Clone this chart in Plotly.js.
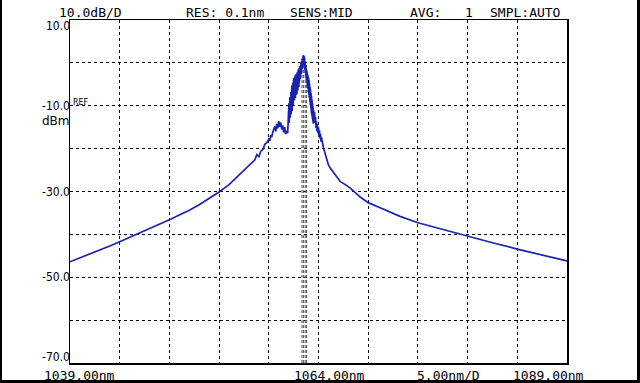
<!DOCTYPE html>
<html><head><meta charset="utf-8">
<script src="https://cdn.plot.ly/plotly-3.0.1.min.js"></script>
<style>
html,body{margin:0;padding:0;background:#fff;}
#wrap{position:relative;width:640px;height:383px;}
#chart{position:absolute;left:0;top:0;width:640px;height:383px;}
#frame{position:absolute;left:0;top:0;width:640px;height:383px;box-sizing:border-box;border-left:2px solid #000;border-right:3px solid #000;border-bottom:3px solid #000;pointer-events:none;}
</style></head>
<body><div id="wrap"><div id="chart"></div><div id="frame"></div></div>
<script>
// Wavelength (nm) and power (dBm)
const wavelength = [
 1039.0,1040.0,1041.0,1042.0,1043.0,1044.0,1045.0,1046.0,1047.0,1048.0,1049.0,1050.0,1051.0,1052.0,1053.0,1054.0,1055.0,1056.0,1056.5,1057.0,1057.3,1057.6,1057.8,1058.0,1058.2,1058.4,1058.6,1058.8,1059.0,1059.1,1059.2,1059.3,1059.4,
 1059.5,1059.6,1059.7,1059.8,1059.9,1060.0,1060.1,1060.2,1060.3,1060.4,1060.5,1060.6,1060.7,1060.8,1060.9,
 1061.000,1061.025,1061.050,1061.075,1061.100,1061.125,1061.150,1061.175,1061.200,1061.225,1061.250,1061.275,1061.300,1061.325,1061.350,1061.375,1061.400,1061.425,1061.450,1061.475,
 1061.500,1061.525,1061.550,1061.575,1061.600,1061.625,1061.650,1061.675,1061.700,1061.725,1061.750,1061.775,1061.800,1061.825,1061.850,1061.875,1061.900,1061.925,1061.950,1061.975,
 1062.000,1062.025,1062.050,1062.075,1062.100,1062.125,1062.150,1062.175,1062.200,1062.225,1062.250,1062.275,1062.300,1062.325,1062.350,1062.375,1062.400,1062.425,1062.450,1062.475,
 1062.500,1062.525,1062.550,1062.575,1062.600,1062.625,1062.650,1062.675,1062.700,1062.725,1062.750,1062.775,1062.800,1062.825,1062.850,1062.875,1062.900,1062.925,1062.950,1062.975,
 1063.000,1063.025,1063.050,1063.075,1063.100,1063.125,1063.150,1063.175,1063.200,1063.225,1063.250,1063.275,1063.300,1063.325,1063.350,1063.375,1063.400,1063.425,1063.450,1063.475,1063.500,
 1063.55,1063.6,1063.65,1063.7,1063.75,1063.8,1063.85,1063.9,1063.95,
 1064.0,1064.05,1064.1,1064.15,1064.2,1064.25,1064.3,1064.4,1064.5,1064.6,1064.7,1064.8,1064.9,1065.0,1065.2,1065.5,1065.8,1066.2,1066.7,1067.2,1068.2,1069.0,1070.2,1072.2,1074.0,1076.5,1079.0,1081.6,1084.1,1086.6,1089.0
];
const powerDbm = [
 -46.4,-45.5,-44.6,-43.6,-42.7,-41.7,-40.7,-39.7,-38.7,-37.6,-36.6,-35.5,-34.4,-33.1,-31.7,-30.1,-28.4,-26.2,-25.0,-24.0,-23.2,-22.6,-21.4,-21.9,-20.6,-20.2,-19.0,-18.6,-17.8,-18.2,-16.8,-17.3,-16.2,
 -15.6,-14.8,-16.0,-14.2,-15.3,-13.6,-14.9,-13.9,-15.5,-14.6,-16.2,-15.0,-16.6,-15.8,-16.4,
 -12.5,-9.4,-14.0,-10.2,-13.2,-8.0,-12.8,-9.0,-11.6,-6.8,-12.0,-7.4,-10.6,-5.2,-11.2,-6.4,-9.8,-4.6,-10.0,-5.8,
 -3.5,-9.2,-4.4,-8.8,-3.8,-7.6,-2.9,-8.2,-3.6,-7.0,-2.6,-6.8,-3.4,-7.4,-2.2,-6.0,-2.8,-6.4,-1.6,-5.2,
 -1.8,-5.6,-1.2,-4.6,-0.8,-4.2,-1.4,-3.8,-0.4,-3.2,0.2,-2.6,0.6,-2.0,1.0,-1.4,1.4,-0.8,1.7,0.4,
 1.8,-0.2,1.6,-0.6,1.2,-1.6,0.4,-2.4,-0.6,-3.0,-1.2,-4.0,-1.6,-4.6,-2.0,-5.4,-2.6,-6.0,-3.0,-6.8,
 -3.4,-7.4,-4.0,-8.2,-4.8,-9.0,-5.6,-9.8,-6.2,-10.6,-7.0,-11.6,-7.8,-12.2,-8.6,-13.0,-9.4,-13.6,-10.2,-14.2,-11.0,
 -13.2,-11.4,-14.0,-12.6,-15.2,-13.6,-16.0,-14.4,-16.4,
 -15.0,-17.2,-15.8,-17.6,-16.6,-18.4,-17.4,-19.2,-19.8,-20.6,-21.4,-22.4,-23.2,-23.8,-24.6,-25.6,-26.6,-27.7,-28.4,-29.2,-31.3,-32.6,-33.8,-35.8,-37.3,-38.9,-40.5,-42.0,-43.5,-44.9,-46.2
];
// Marker positions (nm); each marker is drawn as a pair of thin dashed lines
const markers = [1062.41, 1062.73];
const markerTop = 0;
const xRange = [1039, 1089];
const yRange = [-70, 10];
const yTickVals = [10, -10, -30, -50, -70];
const yTickText = ['10.0', '-10.0', '-30.0', '-50.0', '-70.0'];
const headerText = ['10.0dB/D', 'RES: 0.1nm', 'SENS:MID', 'AVG:', '1', 'SMPL:AUTO'];
const headerLeftPx = [57, 184, 288, 408, 463, 488];
const footerText = ['1039.00nm', '1064.00nm', '5.00nm/D', '1089.00nm'];
const footerLeftPx = [42, 292, 415, 511];

const W = 640, H = 383, L = 70, R = 567, T = 20, B = 363;
const px2paperX = p => (p - L) / (R - L);
const py2paperY = p => (B - p) / (B - T);
const mono = 'DejaVu Sans Mono, Liberation Mono, monospace';

const traces = [];
markers.forEach(m => {
  [-0.07, 0.07].forEach(off => traces.push({
    x: [m + off, m + off], y: [yRange[0], markerTop], mode: 'lines', hoverinfo: 'skip', showlegend: false,
    line: {color: '#555', width: 1, dash: '3px,2px'}
  }));
});
traces.push({
  x: wavelength, y: powerDbm, mode: 'lines', showlegend: false,
  line: {color: '#1a22b4', width: 1.7}
});

const annotations = [];
headerText.forEach((t, i) => annotations.push({
  text: t, xref: 'paper', yref: 'paper', x: px2paperX(headerLeftPx[i]), y: py2paperY(12),
  xanchor: 'left', yanchor: 'middle', showarrow: false, font: {family: mono, size: 13, color: '#000'}
}));
footerText.forEach((t, i) => annotations.push({
  text: t, xref: 'paper', yref: 'paper', x: px2paperX(footerLeftPx[i]), y: py2paperY(375),
  xanchor: 'left', yanchor: 'middle', showarrow: false, font: {family: mono, size: 13, color: '#000'}
}));
yTickVals.forEach((v, i) => annotations.push({
  text: yTickText[i], xref: 'paper', yref: 'y', x: px2paperX(70), y: v,
  xanchor: 'right', yanchor: 'middle', showarrow: false,
  yshift: i === 0 ? -6 : (i === yTickVals.length - 1 ? 6 : 0),
  xshift: 2,
  font: {family: 'DejaVu Sans Condensed, DejaVu Sans Mono, monospace', size: 12, color: '#000'}
}));
annotations.push({text: 'dBm', xref: 'paper', yref: 'paper', x: px2paperX(70), y: py2paperY(121),
  xanchor: 'right', yanchor: 'middle', xshift: 2, showarrow: false, font: {family: 'DejaVu Sans, sans-serif', size: 12, color: '#000'}});
annotations.push({text: 'REF', xref: 'paper', yref: 'paper', x: px2paperX(71), y: py2paperY(103),
  xanchor: 'left', yanchor: 'middle', showarrow: false, font: {family: 'DejaVu Sans, sans-serif', size: 8, color: '#000'}});

const gridStyle = {showgrid: true, gridcolor: '#000', gridwidth: 1, griddash: '3px,3px',
  showline: true, linecolor: '#000', linewidth: 1.5, mirror: true, zeroline: false,
  showticklabels: false, ticks: '', fixedrange: true};

const layout = {
  width: W, height: H,
  margin: {l: L, r: W - R, t: T, b: H - B, pad: 0},
  paper_bgcolor: '#fff', plot_bgcolor: '#fff',
  xaxis: Object.assign({}, gridStyle, {range: xRange, tickmode: 'linear', tick0: 1039, dtick: 5}),
  yaxis: Object.assign({}, gridStyle, {range: yRange, tickmode: 'linear', tick0: -70, dtick: 10}),
  annotations: annotations,
  showlegend: false
};

Plotly.newPlot('chart', traces, layout, {staticPlot: true, displayModeBar: false});
</script>
</body></html>
